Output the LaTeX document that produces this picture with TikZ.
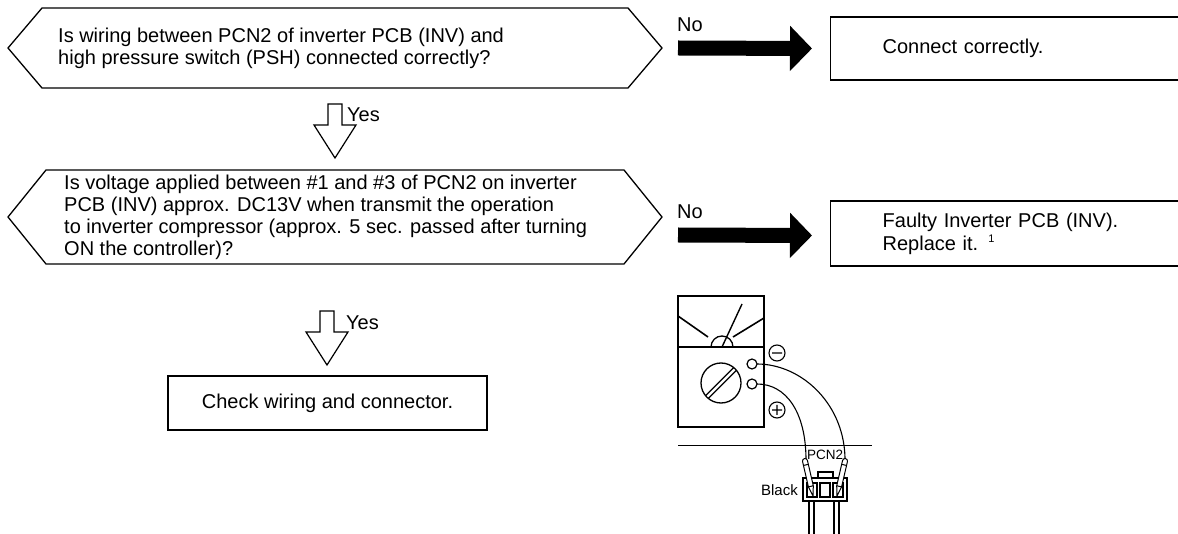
\documentclass[tikz,border=0pt]{standalone}
\usepackage{fontspec}
\setmainfont{Liberation Sans}
\usetikzlibrary{arrows.meta}
\begin{document}
\begin{tikzpicture}[x=1pt,y=-1pt,
  outline/.style={line width=1.3pt, line join=miter},
  boxst/.style={draw, line width=1.3pt, inner sep=0pt},
  txt/.style={font=\fontsize{20}{22}\selectfont, inner sep=0pt, align=left},
  lbl/.style={font=\fontsize{20}{22}\selectfont, inner sep=0pt},
  noarrow/.style={line width=15pt, -{Triangle[length=22pt,width=44pt]}},
  yesarrow/.pic={\draw[line width=1.2pt, fill=white]
     (-7,0) -- (-7,21) -- (-21,21) -- (0,54) -- (21,21) -- (7,21) -- (7,0) -- cycle;},
  wire/.style={line width=1.1pt},
  probe/.style={line width=1pt, fill=white},
]
\useasboundingbox (0,0) rectangle (1178,534);
\clip (0,0) rectangle (1178,534);

% ---------- first question ----------
\draw[outline] (8,48) -- (42,8) -- (628,8) -- (662,48) -- (628,88) -- (42,88) -- cycle;
\coordinate (q1e) at (662,48);
\coordinate (q1s) at (335,88);
\node[txt, anchor=west] (q1) at (58,48)
  {Is wiring between PCN2 of inverter PCB (INV) and\\high pressure switch (PSH) connected correctly?};

\node[boxst, anchor=west, minimum height=63pt, text width=320pt, inner xsep=52pt,
      font=\fontsize{20}{22}\selectfont, align=left] (a1) at (830,48.5) {Connect correctly.};
\draw[noarrow] ([xshift=16pt]q1e) -- ([xshift=-18pt]a1.west);
\node[lbl, anchor=west] (no1) at (677,25) {No};

\pic at ([yshift=-16pt]q1s) {yesarrow};
\node[lbl, anchor=west] (yes1) at (347,115) {Yes};

% ---------- second question ----------
\draw[outline] (8,217) -- (46,170) -- (624,170) -- (662,217) -- (624,264) -- (46,264) -- cycle;
\coordinate (q2e) at (662,217);
\coordinate (q2s) at (327,264);
\node[txt, anchor=west] (q2) at (64,217)
  {Is voltage applied between \#1 and \#3 of PCN2 on inverter\\
   PCB (INV) approx. DC13V when transmit the operation\\
   to inverter compressor (approx. 5 sec. passed after turning\\
   ON the controller)?};

\node[boxst, anchor=west, minimum height=65pt, text width=320pt, inner xsep=52pt,
      font=\fontsize{20}{23}\selectfont, align=left] (a2) at (830,233.5)
  {Faulty Inverter PCB (INV).\\Replace it. \textsuperscript{\fontsize{11}{12}\selectfont 1}};
\draw[noarrow] ([xshift=16pt,yshift=-18pt]q2e) -- ([xshift=-18pt,yshift=-2pt]a2.west);
\node[lbl, anchor=west] (no2) at (677,212) {No};

\pic at ([yshift=-47pt]q2s) {yesarrow};
\node[lbl, anchor=west] (yes2) at (346,323) {Yes};

\node[boxst, minimum width=319pt, minimum height=54pt,
      font=\fontsize{20}{22}\selectfont] (c1) at (327.5,403) {Check wiring and connector.};

% ---------- tester on PCN2 ----------
\draw[outline] (678,296) rectangle (764,427);
\draw[outline] (678,347) -- (764,347);
\draw[outline] (711,347) arc[start angle=180, end angle=360, radius=11];
\draw[line width=1.4pt] (722,347) -- (742,304);
\draw[line width=1.6pt] (678,316) -- (708,337);
\draw[line width=1.6pt] (733,337) -- (764,318);
\draw[outline] (721,383) circle[radius=20];
\begin{scope}[shift={(721,383)}, rotate=45]
  \draw[line width=1.2pt] (-19.5,-2) -- (19.5,-2);
  \draw[line width=1.2pt] (-19.5,2) -- (19.5,2);
\end{scope}
\draw[line width=1.2pt] (752,364) circle[radius=5];
\draw[line width=1.2pt] (752,384) circle[radius=5];
\draw[line width=1.1pt] (777,353) circle[radius=8] (772,353) -- (782,353);
\draw[line width=1.1pt] (777,410) circle[radius=8] (772,410) -- (782,410) (777,405) -- (777,415);

\draw[wire] (757,364) .. controls (802,364) and (846,405) .. (845,462);
\draw[wire] (757,384) .. controls (786,384) and (806,412) .. (806,460);

\draw[line width=1pt] (678,445) -- (872,445);

% connector body and its two leads
\draw[line width=1.2pt] (809,501) -- (809,534) (814,501) -- (814,534)
                        (834,501) -- (834,534) (839,501) -- (839,534);
\draw[line width=1.2pt, fill=white] (803,478) rectangle (847,501);
\draw[line width=1.2pt, fill=white] (818,472) rectangle (833,478);
\draw[line width=1.1pt] (807,483) rectangle (817,497)
                        (820,483) rectangle (830,497)
                        (833,483) rectangle (843,497);

% test probes
\begin{scope}[shift={(805,461)}, rotate=-77]
  \draw[probe] (26,-2.5) -- (0,-2.5) arc[start angle=270, end angle=90, radius=2.5] -- (26,2.5) -- cycle;
  \draw[line width=1pt] (4,-2.5) -- (4,2.5);
  \draw[line width=1pt] (26,-2.5) -- (36,0) -- (26,2.5);
\end{scope}
\begin{scope}[shift={(845,461)}, rotate=-103]
  \draw[probe] (26,-2.5) -- (0,-2.5) arc[start angle=270, end angle=90, radius=2.5] -- (26,2.5) -- cycle;
  \draw[line width=1pt] (4,-2.5) -- (4,2.5);
  \draw[line width=1pt] (26,-2.5) -- (36,0) -- (26,2.5);
\end{scope}

\node[font=\fontsize{13.5}{14}\selectfont, inner sep=0pt] (pcn) at (825,455) {PCN2};
\node[font=\fontsize{15}{16}\selectfont, inner sep=0pt, anchor=east] (blk) at (798,490) {Black};
\end{tikzpicture}
\end{document}
